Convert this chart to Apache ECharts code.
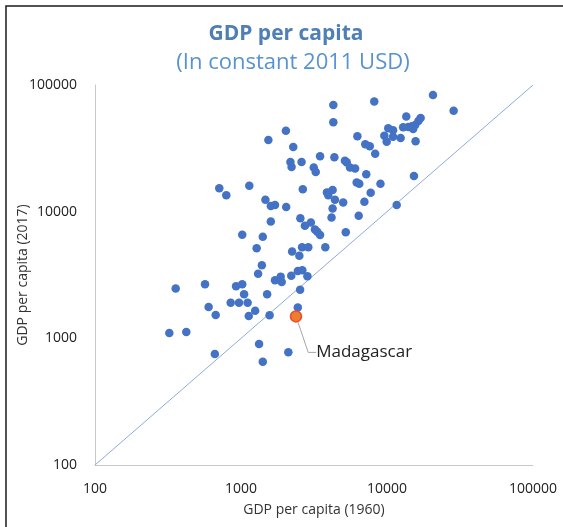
<!DOCTYPE html>
<html>
<head>
<meta charset="utf-8">
<script src="https://cdn.jsdelivr.net/npm/echarts@6/dist/echarts.min.js"></script>
<style>
  html, body { margin: 0; padding: 0; background: #fff; }
  #chart { width: 563px; height: 527px; }
</style>
</head>
<body>
<div id="chart"></div>
<script>
// GDP per capita in 1960 (x) and 2017 (y), constant 2011 USD
const gdp1960 = [
  4290, 8180, 20650, 28600, 4290, 13550, 17000, 16400, 15600, 14800,
  14000, 12900, 15100, 10200, 11000, 9590, 11000, 12400, 9950, 15700,
  6270, 7100, 7620, 8300, 7210, 15300, 9020, 2030, 1540, 2280,
  3480, 4360, 2180, 2220, 2600, 5150, 5300, 3150, 3250, 5580,
  6050, 6200, 6460, 710, 793, 1140, 2650, 3880, 3960, 4240,
  4400, 7730, 5010, 7000, 1470, 1600, 1710, 2040, 4240, 4170,
  6400, 11650, 1600, 2550, 2740, 3010, 3210, 3330, 3480, 5220,
  1020, 1410, 1280, 2240, 2510, 2620, 2890, 3780, 1390, 1310,
  1710, 1870, 1900, 2210, 2450, 2630, 2850, 357, 567, 925,
  1020, 1050, 1510, 2540, 600, 671, 850, 969, 1110, 1250,
  1130, 1570, 2450, 323, 422, 1330, 2110, 1410, 662
]
const gdp2017 = [
  69500, 74100, 83400, 62700, 50800, 56400, 54900, 52000, 48300, 47200,
  46600, 46300, 45000, 45500, 43900, 39800, 39100, 38200, 35600, 36000,
  39400, 34000, 32800, 28700, 19700, 19100, 16600, 43600, 36800, 32400,
  27400, 26900, 24700, 22500, 24700, 25200, 24500, 22300, 20600, 22300,
  21900, 17000, 16600, 15300, 13500, 16000, 15000, 14200, 13500, 14800,
  12400, 14100, 11800, 12000, 12400, 11100, 11300, 10900, 10600, 8990,
  9270, 11300, 8360, 8870, 7730, 8210, 7230, 6950, 6550, 6870,
  6560, 6340, 5150, 4850, 4490, 5230, 5230, 5230, 3780, 3240,
  2870, 3070, 2790, 3120, 3400, 3440, 3090, 2470, 2670, 2580,
  2670, 2230, 2230, 2420, 1770, 1530, 1910, 1910, 1910, 1650,
  1500, 1520, 1750, 1100, 1120, 902, 776, 654, 752
]

const highlightName = 'Madagascar'
const highlight1960 = [2380]
const highlight2017 = [1490]

// 45 degree reference line (no growth)
const parityLine = [100, 100000]

const xTickLabels = ['100', '1000', '10000', '100000']
const yTickLabels = ['100', '1000', '10000', '100000']

const FONT = '"Open Sans", "Noto Sans", sans-serif'

const chart = echarts.init(document.getElementById('chart'))

const tickLabel = (labels) => (v) => labels[Math.round(Math.log10(v)) - 2] || ''

const option = {
  animation: false,
  textStyle: { fontFamily: FONT },
  title: [
    {
      text: 'GDP per capita',
      left: 281,
      top: 19,
      textAlign: 'center',
      textStyle: { fontFamily: FONT, fontSize: 21, fontWeight: 'bold', color: '#4f7fb5' }
    },
    {
      text: '(In constant 2011 USD)',
      left: 288,
      top: 47,
      textAlign: 'center',
      textStyle: { fontFamily: FONT, fontSize: 22, fontWeight: 'normal', color: '#5893d0' }
    }
  ],
  graphic: [
    {
      type: 'rect',
      shape: { x: 6, y: 6, width: 700, height: 700 },
      style: { fill: 'none', stroke: '#1a1a1a', lineWidth: 1.5 },
      silent: true
    }
  ],
  grid: {
    left: 95,
    right: 30,
    top: 85,
    bottom: 62,
    outerBoundsMode: 'none'
  },
  xAxis: {
    type: 'log',
    logBase: 10,
    min: 100,
    max: 100000,
    name: 'GDP per capita (1960)',
    nameLocation: 'middle',
    nameGap: 38,
    nameMoveOverlap: false,
    nameTextStyle: { fontFamily: FONT, fontSize: 14, color: '#333' },
    axisLine: { lineStyle: { color: '#c8c8c8', width: 1 } },
    axisTick: { show: false },
    splitLine: { show: false },
    axisLabel: {
      margin: 17,
      fontFamily: FONT,
      fontSize: 14,
      color: '#222',
      formatter: tickLabel(xTickLabels)
    }
  },
  yAxis: {
    type: 'log',
    logBase: 10,
    min: 100,
    max: 100000,
    name: 'GDP per capita (2017)',
    nameLocation: 'middle',
    nameGap: 65,
    nameMoveOverlap: false,
    nameTextStyle: { fontFamily: FONT, fontSize: 14, color: '#333' },
    axisLine: { show: true, lineStyle: { color: '#c8c8c8', width: 1 } },
    axisTick: { show: false },
    splitLine: { show: false },
    axisLabel: {
      margin: 18,
      fontFamily: FONT,
      fontSize: 14,
      color: '#222',
      formatter: tickLabel(yTickLabels)
    }
  },
  series: [
    {
      name: 'Parity',
      type: 'line',
      data: parityLine.map(v => [v, v]),
      symbol: 'none',
      silent: true,
      lineStyle: { color: '#8faadc', width: 1 },
      z: 1
    },
    {
      name: 'Countries',
      type: 'scatter',
      data: gdp1960.map((x, i) => [x, gdp2017[i]]),
      symbolSize: 8.5,
      itemStyle: { color: '#4472c4', opacity: 1 },
      z: 2
    },
    {
      name: highlightName,
      type: 'scatter',
      data: highlight1960.map((x, i) => [x, highlight2017[i]]),
      symbolSize: 11,
      itemStyle: { color: '#ed7d31', borderColor: '#f04a25', borderWidth: 1.5, opacity: 1 },
      label: {
        show: true,
        position: 'right',
        formatter: highlightName,
        fontFamily: FONT,
        fontSize: 17,
        color: '#222'
      },
      labelLayout: { dx: 9, dy: 36 },
      labelLine: { show: true, length2: 8, lineStyle: { color: '#a6a6a6', width: 1 } },
      z: 3
    }
  ]
}

chart.setOption(option)
</script>
</body>
</html>
